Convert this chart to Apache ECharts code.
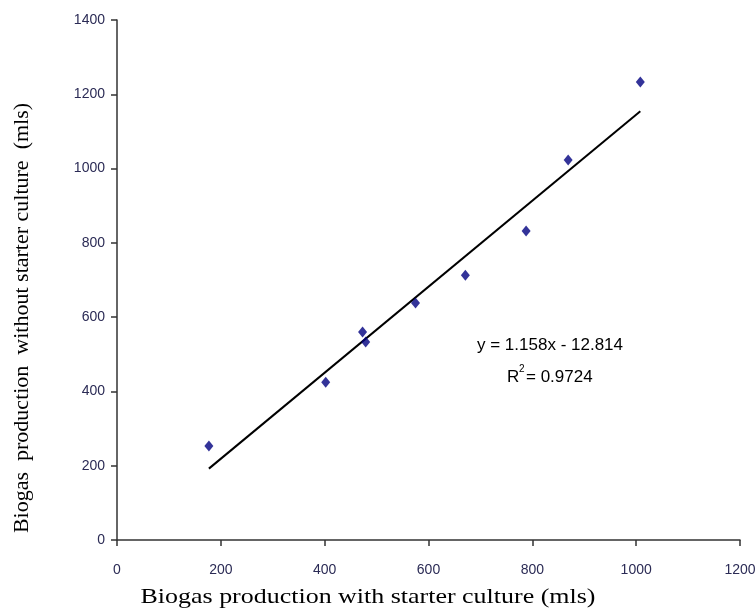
<!DOCTYPE html>
<html>
<head>
<meta charset="utf-8">
<script src="https://cdn.jsdelivr.net/npm/echarts@6/dist/echarts.min.js"></script>
<style>
  html, body { margin: 0; padding: 0; background: #fff; }
  #chart { width: 755px; height: 610px; }
</style>
</head>
<body>
<div id="chart"></div>
<script>
// data
var withStarter = [177, 402, 473, 479, 575, 671, 788, 869, 1008];
var withoutStarter = [253, 425, 560, 533, 638, 713, 832, 1023, 1233];
var trendSlope = 1.158;
var trendIntercept = -12.814;
var rSquared = '0.9724';

var points = withStarter.map(function (x, i) { return [x, withoutStarter[i]]; });
var xMin = Math.min.apply(null, withStarter);
var xMax = Math.max.apply(null, withStarter);
var trendLine = [
  [xMin, trendSlope * xMin + trendIntercept],
  [xMax, trendSlope * xMax + trendIntercept]
];

var sans = "'Liberation Sans Narrow', 'Arial Narrow', 'Liberation Sans', Arial, sans-serif";
var serif = "'Liberation Serif', 'Times New Roman', serif";

var chart = echarts.init(document.getElementById('chart'));

var option = {
  animation: false,
  backgroundColor: '#fff',
  grid: { left: 117, right: 15, top: 20, bottom: 70, outerBoundsMode: 'none', containLabel: false },
  xAxis: {
    type: 'value',
    min: 0, max: 1200, interval: 200,
    axisLine: { show: true, lineStyle: { color: '#333', width: 1.5 } },
    axisTick: { show: true, inside: false, length: 6, lineStyle: { color: '#333', width: 1.5 } },
    axisLabel: {
      fontFamily: sans, fontSize: 14, color: '#2b2b55', margin: 23,
      formatter: function (v) { return String(v); }
    },
    splitLine: { show: false }
  },
  yAxis: {
    type: 'value',
    min: 0, max: 1400, interval: 200,
    axisLine: { show: true, lineStyle: { color: '#333', width: 1.5 } },
    axisTick: { show: true, inside: false, length: 6, lineStyle: { color: '#333', width: 1.5 } },
    axisLabel: {
      fontFamily: sans, fontSize: 14, color: '#2b2b55', margin: 12,
      formatter: function (v) { return String(v); }
    },
    splitLine: { show: false }
  },
  series: [
    {
      name: 'Trend',
      type: 'line',
      data: trendLine,
      symbol: 'none',
      lineStyle: { color: '#000', width: 2 },
      z: 2
    },
    {
      name: 'Biogas',
      type: 'scatter',
      data: points,
      symbol: 'diamond',
      symbolSize: [9, 11],
      itemStyle: { color: '#000080' },
      z: 3
    }
  ],
  graphic: [
    {
      type: 'text',
      x: 368, y: 597, scaleX: 1.18,
      style: {
        text: 'Biogas production with starter culture (mls)',
        fontFamily: serif, fontSize: 22, fill: '#000',
        align: 'center', verticalAlign: 'middle'
      }
    },
    {
      type: 'text',
      x: 22, y: 318, rotation: Math.PI / 2,
      style: {
        text: 'Biogas  production  without starter culture  (mls)',
        fontFamily: serif, fontSize: 22, fill: '#000',
        align: 'center', verticalAlign: 'middle'
      }
    },
    {
      type: 'text',
      x: 550, y: 345,
      style: {
        text: 'y = 1.158x - 12.814', fontFamily: sans, fontSize: 17, fill: '#000',
        align: 'center', verticalAlign: 'middle'
      }
    },
    {
      type: 'text',
      x: 507, y: 377,
      style: { text: 'R', fontFamily: sans, fontSize: 17, fill: '#000', verticalAlign: 'middle' }
    },
    {
      type: 'text',
      x: 519, y: 369,
      style: { text: '2', fontFamily: sans, fontSize: 10, fill: '#000', verticalAlign: 'middle' }
    },
    {
      type: 'text',
      x: 526, y: 377,
      style: { text: '= ' + rSquared, fontFamily: sans, fontSize: 17, fill: '#000', verticalAlign: 'middle' }
    }
  ]
};

chart.setOption(option);
</script>
</body>
</html>
